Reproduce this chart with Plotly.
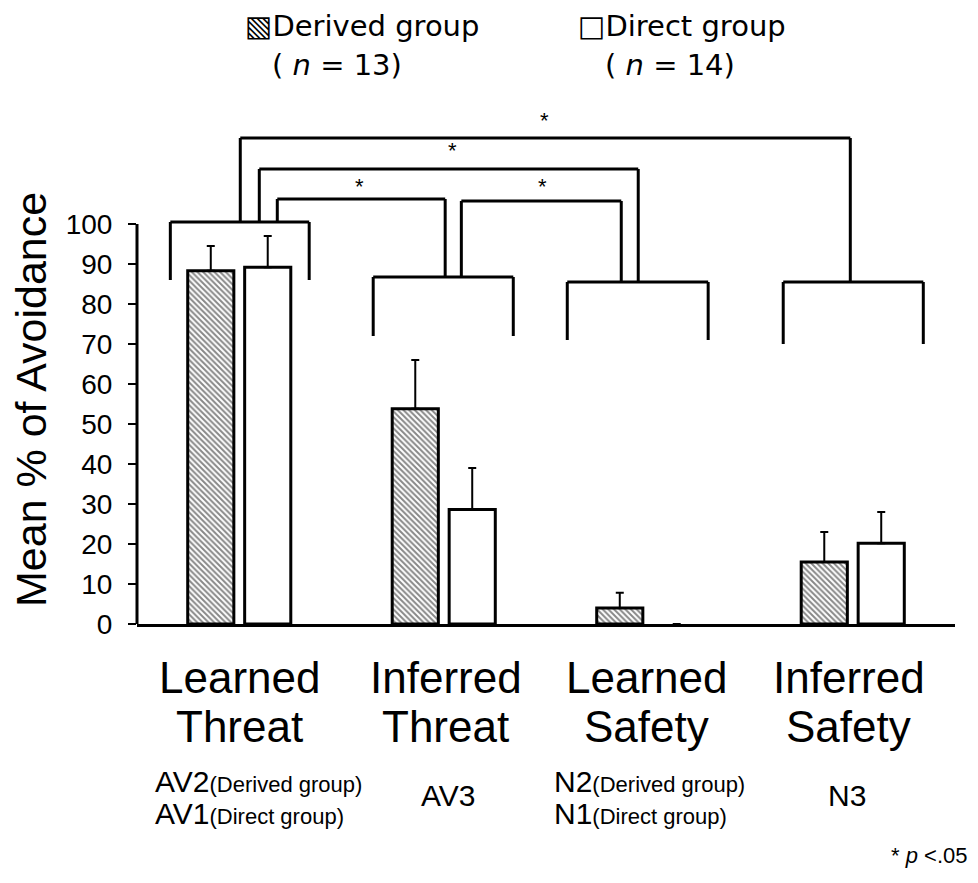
import plotly.graph_objects as go

# ---- data -------------------------------------------------------------
categories = ["Learned Threat", "Inferred Threat", "Learned Safety", "Inferred Safety"]
cat_line1 = ["Learned", "Inferred", "Learned", "Inferred"]
cat_line2 = ["Threat", "Threat", "Safety", "Safety"]

derived_mean = [88.3, 53.8, 4.0, 15.5]
derived_err = [6.2, 12.2, 3.8, 7.5]
direct_mean = [89.2, 28.6, 0.0, 20.2]
direct_err = [7.8, 10.4, None, 7.8]

derived_label = "Derived group"
direct_label = "Direct group"
derived_n = 13
direct_n = 14
y_ticks = list(range(0, 101, 10))

# ---- layout geometry (pixels) ----------------------------------------
W, H = 978, 883
PL, PR, PT, PB = 137, 955, 104, 624
Y_MAX = 130

def paper_x(p):
    return (p - PL) / (PR - PL)

def paper_y(p):
    return (PB - p) / (PB - PT)

ARIAL = "Liberation Sans, Arial, sans-serif"
VERDANA = "DejaVu Sans, Verdana, sans-serif"

def outline(vals):
    # no outline for empty bars so nothing sits on the baseline
    return [3 if v > 0 else 0 for v in vals]

fig = go.Figure()

fig.add_trace(go.Bar(
    name=derived_label, x=categories, y=derived_mean,
    marker=dict(color="white", line=dict(color="black", width=outline(derived_mean)),
                pattern=dict(shape="\\", size=4, solidity=0.5,
                             fgcolor="#111", bgcolor="white")),
    error_y=dict(type="data", array=derived_err, symmetric=False,
                 arrayminus=[0] * 4, color="black", thickness=2, width=4),
    showlegend=False,
))
fig.add_trace(go.Bar(
    name=direct_label, x=categories, y=direct_mean,
    marker=dict(color="white", line=dict(color="black", width=outline(direct_mean))),
    error_y=dict(type="data", array=direct_err, symmetric=False,
                 arrayminus=[0] * 4, color="black", thickness=2, width=4),
    showlegend=False,
))

# ---- significance brackets -------------------------------------------
shapes = []

def seg(x0, y0, x1, y1):
    shapes.append(dict(type="line", xref="x", yref="y", x0=x0, y0=y0,
                       x1=x1, y1=y1, line=dict(color="black", width=3)))

def bracket(xl, xr, top, yl, yr):
    seg(xl, yl, xl, top)
    seg(xl, top, xr, top)
    seg(xr, top, xr, yr)

# brackets spanning the two bars of each condition
group_br = [(-0.337, 0.342, 100.5, 86.0),
            (0.655, 1.340, 86.75, 72.0),
            (1.604, 2.293, 85.5, 71.0),
            (2.660, 3.345, 85.5, 70.0)]
for xl, xr, top, bot in group_br:
    bracket(xl, xr, top, bot, bot)

# comparisons between conditions: (left x, right x, top, left end, right end, star x, star y)
comp_br = [(0.005, 2.988, 121.5, 100.5, 85.5, 1.491, 126.0),
           (0.098, 1.951, 113.75, 100.5, 85.5, 1.042, 118.3),
           (0.186, 1.007, 106.25, 100.5, 86.75, 0.587, 109.5),
           (1.086, 1.868, 105.75, 86.75, 85.5, 1.482, 109.5)]
annotations = []
for xl, xr, top, yl, yr, sx, sy in comp_br:
    bracket(xl, xr, top, yl, yr)
    annotations.append(dict(x=sx, y=sy, xref="x", yref="y", text="*",
                            showarrow=False, font=dict(family=ARIAL, size=22, color="black")))

# y axis line (stops at 100)
shapes.append(dict(type="line", xref="paper", yref="paper", x0=0, x1=0,
                   y0=0, y1=100 / Y_MAX, line=dict(color="black", width=3)))

# ---- text -------------------------------------------------------------
big = dict(family=ARIAL, size=44, color="black")
cat_x = [0.0, 1.01, 1.99, 2.98]
for i in range(4):
    annotations.append(dict(x=cat_x[i], y=paper_y(677), xref="x", yref="paper",
                            text=cat_line1[i], showarrow=False, font=big,
                            xanchor="center", yanchor="middle"))
    annotations.append(dict(x=cat_x[i], y=paper_y(726), xref="x", yref="paper",
                            text=cat_line2[i], showarrow=False, font=big,
                            xanchor="center", yanchor="middle"))

mid = dict(family=ARIAL, size=30, color="black")
def sub(main, note):
    return f"{main}<span style='font-size:22px'>({note})</span>"

stim_rows = [
    (-0.42, 781, sub("AV2", derived_label), "left"),
    (-0.42, 813, sub("AV1", direct_label), "left"),
    (1.02, 795, "AV3", "center"),
    (1.531, 781, sub("N2", derived_label), "left"),
    (1.531, 813, sub("N1", direct_label), "left"),
    (2.97, 795, "N3", "center"),
]
for x, yp, txt, anc in stim_rows:
    annotations.append(dict(x=x, y=paper_y(yp), xref="x", yref="paper", text=txt,
                            showarrow=False, font=mid, xanchor=anc, yanchor="middle"))

annotations.append(dict(x=paper_x(969), y=paper_y(855), xref="paper", yref="paper",
                        text="* <i>p</i> <.05", showarrow=False,
                        font=dict(family=ARIAL, size=22, color="black"),
                        xanchor="right", yanchor="middle"))

# y axis title
annotations.append(dict(x=paper_x(31), y=paper_y(400), xref="paper", yref="paper",
                        text="Mean % of Avoidance", textangle=-90, showarrow=False,
                        font=dict(family=ARIAL, size=43, color="black"),
                        xanchor="center", yanchor="middle"))

# legend key
leg = dict(family=VERDANA, size=29, color="black")
for xp, glyph, label, n in [(243, "▧", derived_label, derived_n),
                            (576, "□", direct_label, direct_n)]:
    annotations.append(dict(x=paper_x(xp), y=paper_y(26), xref="paper", yref="paper",
                            text=f"{glyph}{label}", showarrow=False, font=leg,
                            xanchor="left", yanchor="middle"))
    annotations.append(dict(x=paper_x(xp + 27), y=paper_y(65), xref="paper", yref="paper",
                            text=f"( <i>n</i> = {n})", showarrow=False, font=leg,
                            xanchor="left", yanchor="middle"))

fig.update_layout(
    width=W, height=H,
    margin=dict(l=PL, r=W - PR, t=PT, b=H - PB, pad=0),
    paper_bgcolor="white", plot_bgcolor="white",
    barmode="group", bargap=0.443, bargroupgap=0.19,
    shapes=shapes, annotations=annotations,
    xaxis=dict(range=[-0.5, 3.5], showline=True, linecolor="black", linewidth=3,
               showticklabels=False, ticks="", showgrid=False, zeroline=False),
    yaxis=dict(range=[0, Y_MAX], tickvals=y_ticks, ticks="outside", ticklen=8,
               tickwidth=2, tickcolor="black", showline=False, showgrid=False,
               zeroline=False, ticklabelstandoff=10,
               tickfont=dict(family=ARIAL, size=28, color="black")),
)

fig.write_html("out.html")
